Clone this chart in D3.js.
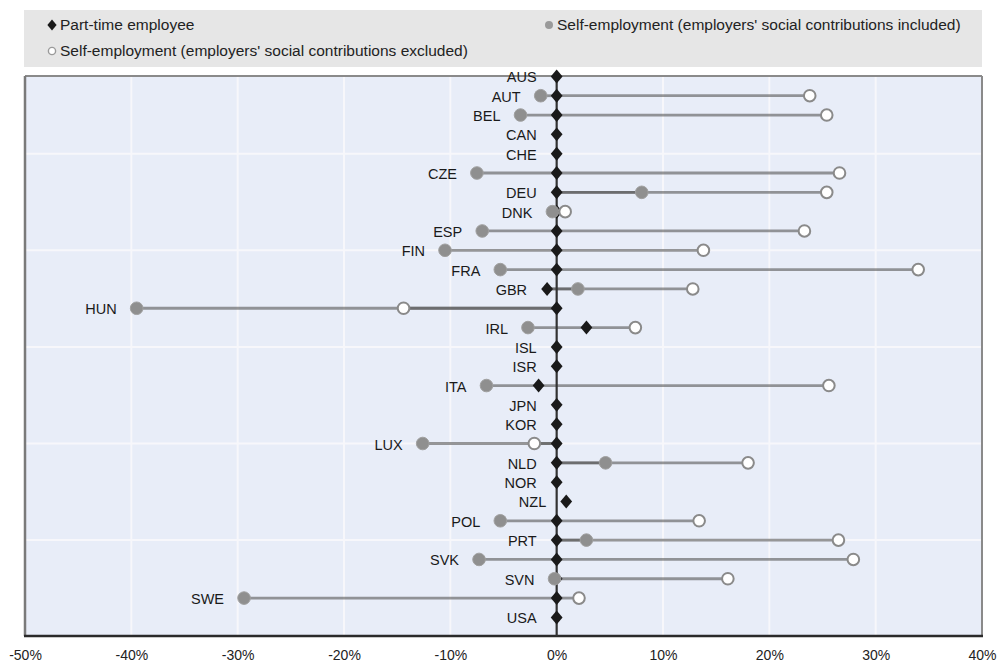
<!DOCTYPE html>
<html>
<head>
<meta charset="utf-8">
<script src="https://cdn.jsdelivr.net/npm/d3@7"></script>
<style>
  html, body { margin: 0; padding: 0; background: #ffffff; }
  svg { display: block; font-family: "Liberation Sans", Arial, sans-serif; }
</style>
</head>
<body>
<svg id="chart" width="999" height="665"></svg>
<script>
// ---- data (values in %) ----
const countries = ["AUS","AUT","BEL","CAN","CHE","CZE","DEU","DNK","ESP","FIN","FRA","GBR","HUN","IRL","ISL","ISR","ITA","JPN","KOR","LUX","NLD","NOR","NZL","POL","PRT","SVK","SVN","SWE","USA"];
const partTime = [0,0,0,0,0,0,0,0,0,0,0,-0.9,0,2.8,0,0,-1.7,0,0,0,0,0,0.9,0,0,0,0,0,0];
const selfIncl = [null,-1.5,-3.4,null,null,-7.5,8.0,-0.4,-7.0,-10.5,-5.3,2.0,-39.5,-2.7,null,null,-6.6,null,null,-12.6,4.6,null,null,-5.3,2.8,-7.3,-0.2,-29.4,null];
const selfExcl = [null,23.8,25.4,null,null,26.6,25.4,0.8,23.3,13.8,34.0,12.8,-14.4,7.4,null,null,25.6,null,null,-2.1,18.0,null,null,13.4,26.5,27.9,16.1,2.1,null];
const xTicks = [-50,-40,-30,-20,-10,0,10,20,30,40];
const legendLabels = ["Part-time employee","Self-employment (employers' social contributions included)","Self-employment (employers' social contributions excluded)"];

const svg = d3.select("#chart");

// ---- layout ----
const plotLeft = 25, plotRight = 982;
const panelTop = 76, panelBottom = 636;
const x = d3.scaleLinear().domain([-50, 40]).range([plotLeft, plotRight]);
const y = d3.scalePoint().domain(countries).range([76.4, 617.4]);

// ---- legend ----
svg.append("rect").attr("x", 24).attr("y", 10).attr("width", 958).attr("height", 57).attr("fill", "#e6e6e6");

const diamondType = {
  draw(ctx, size) {
    const h = Math.sqrt(size) * 0.78, w = Math.sqrt(size) * 0.66;
    ctx.moveTo(0, -h); ctx.lineTo(w, 0); ctx.lineTo(0, h); ctx.lineTo(-w, 0); ctx.closePath();
  }
};

const legendItems = [
  {lx: 52, ly: 25, kind: "pt", label: legendLabels[0]},
  {lx: 549, ly: 25, kind: "inc", label: legendLabels[1]},
  {lx: 52, ly: 51, kind: "exc", label: legendLabels[2]}
];
const lg = svg.append("g");
legendItems.forEach(d => {
  if (d.kind === "pt") {
    lg.append("path").attr("d", d3.symbol().type(diamondType).size(49)())
      .attr("transform", `translate(${d.lx},${d.ly})`).attr("fill", "#1a1a1a");
  } else if (d.kind === "inc") {
    lg.append("circle").attr("cx", d.lx).attr("cy", d.ly).attr("r", 4).attr("fill", "#9a9a9a");
  } else {
    lg.append("circle").attr("cx", d.lx).attr("cy", d.ly).attr("r", 3.6).attr("fill", "#fff")
      .attr("stroke", "#9a9a9a").attr("stroke-width", 1.4);
  }
  lg.append("text").attr("x", d.lx + 8).attr("y", d.ly + 5).attr("font-size", 15.5)
    .attr("fill", "#222").text(d.label);
});

// ---- panel ----
svg.append("rect").attr("x", plotLeft).attr("y", panelTop)
  .attr("width", plotRight - plotLeft).attr("height", panelBottom - panelTop)
  .attr("fill", "#e8edf8");

// gridlines
const grid = svg.append("g");
xTicks.filter(t => t > -50 && t < 40 && t !== 0).forEach(t => {
  grid.append("line").attr("x1", x(t)).attr("x2", x(t)).attr("y1", panelTop).attr("y2", panelBottom)
    .attr("stroke", "#f7f7fb").attr("stroke-width", 2);
});
countries.forEach((c, i) => {
  if (i % 5 === 4) {
    grid.append("line").attr("x1", plotLeft).attr("x2", plotRight).attr("y1", y(c)).attr("y2", y(c))
      .attr("stroke", "#f7f7fb").attr("stroke-width", 2);
  }
});

// borders
svg.append("line").attr("x1", plotLeft).attr("x2", plotRight).attr("y1", panelTop).attr("y2", panelTop)
  .attr("stroke", "#8a8a8a").attr("stroke-width", 2);
svg.append("line").attr("x1", plotLeft).attr("x2", plotLeft).attr("y1", panelTop).attr("y2", panelBottom)
  .attr("stroke", "#7a7a7a").attr("stroke-width", 2.5);
svg.append("line").attr("x1", plotRight).attr("x2", plotRight).attr("y1", panelTop).attr("y2", panelBottom)
  .attr("stroke", "#8a8a8a").attr("stroke-width", 2);
svg.append("line").attr("x1", plotLeft - 1).attr("x2", plotRight + 1).attr("y1", panelBottom).attr("y2", panelBottom)
  .attr("stroke", "#2a2a2a").attr("stroke-width", 2.5);

// ---- x axis ----
const xAxis = d3.axisBottom(x).tickValues(xTicks).tickFormat(d => d + "%").tickSize(0).tickPadding(0);
const ax = svg.append("g").attr("transform", `translate(0,${panelBottom})`).call(xAxis);
ax.select(".domain").remove();
ax.selectAll("text").attr("font-size", 14).attr("fill", "#222")
  .attr("font-family", "Liberation Sans, Arial, sans-serif").attr("dy", "1.7em");

// ---- rows ----
const rows = countries.map((c, i) => ({c, pt: partTime[i], inc: selfIncl[i], exc: selfExcl[i]}));

const lines = svg.append("g");
rows.forEach(r => {
  [r.inc, r.exc].forEach(v => {
    if (v === null) return;
    lines.append("line").attr("x1", x(r.pt)).attr("x2", x(v)).attr("y1", y(r.c)).attr("y2", y(r.c))
      .attr("stroke", "#555").attr("stroke-opacity", 0.6).attr("stroke-width", 2.8);
  });
});

// zero line
svg.append("line").attr("x1", x(0)).attr("x2", x(0)).attr("y1", panelTop).attr("y2", panelBottom)
  .attr("stroke", "#333").attr("stroke-width", 2.2);

// diamonds
svg.append("g").selectAll("path").data(rows).join("path")
  .attr("d", d3.symbol().type(diamondType).size(80)())
  .attr("transform", d => `translate(${x(d.pt)},${y(d.c)})`)
  .attr("fill", "#1a1a1a");

// self-employment included (grey filled)
svg.append("g").selectAll("circle").data(rows.filter(d => d.inc !== null)).join("circle")
  .attr("cx", d => x(d.inc)).attr("cy", d => y(d.c)).attr("r", 6.3)
  .attr("fill", "#8f8f8f").attr("stroke", "#a0a0a0").attr("stroke-width", 1);

// self-employment excluded (open)
svg.append("g").selectAll("circle").data(rows.filter(d => d.exc !== null)).join("circle")
  .attr("cx", d => x(d.exc)).attr("cy", d => y(d.c)).attr("r", 5.8)
  .attr("fill", "#ffffff").attr("stroke", "#8a8a8a").attr("stroke-width", 2);

// country labels
svg.append("g").selectAll("text").data(rows).join("text")
  .attr("x", d => x(Math.min(d.pt, d.inc ?? Infinity, d.exc ?? Infinity)) - 20)
  .attr("y", d => y(d.c) + 6)
  .attr("text-anchor", "end").attr("font-size", 14.5).attr("fill", "#1a1a1a")
  .text(d => d.c);
</script>
</body>
</html>
